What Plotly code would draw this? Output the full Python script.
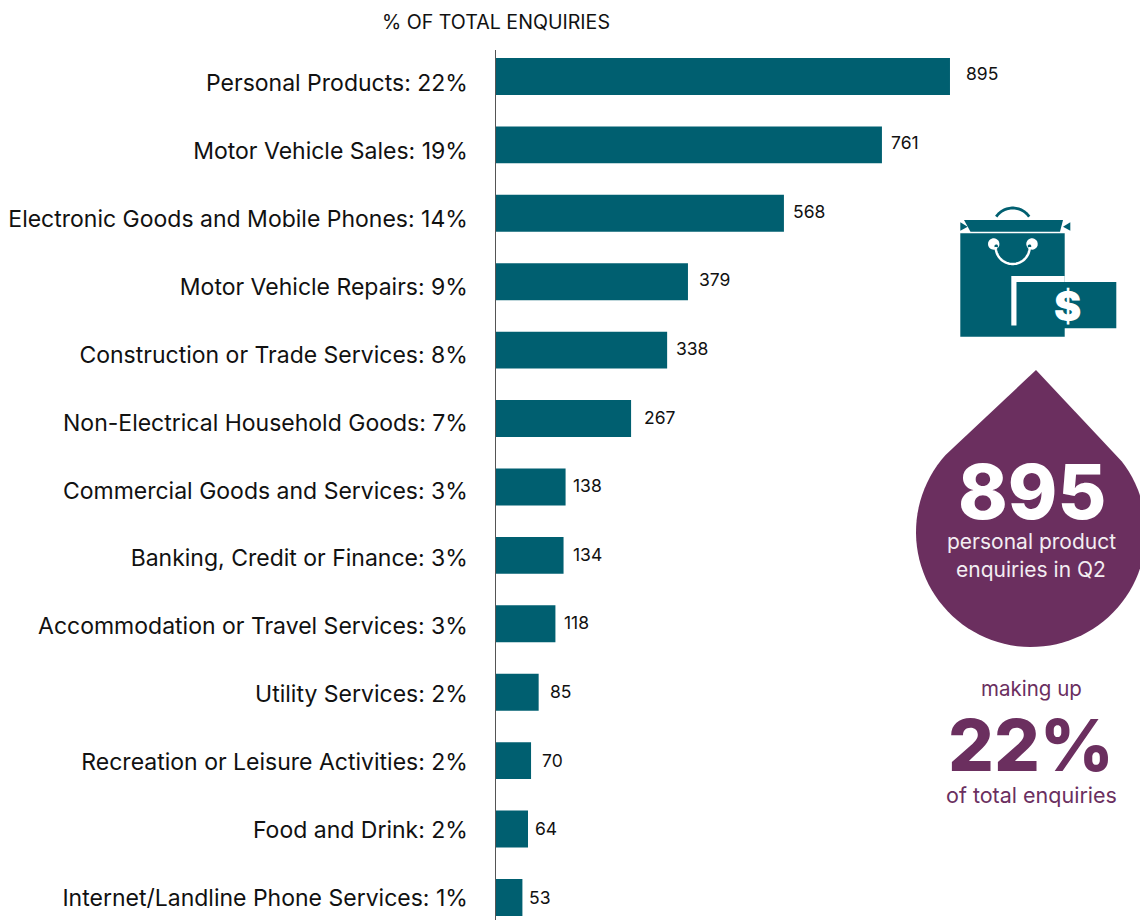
import numpy as np
import plotly.graph_objects as go

categories = ["Personal Products: 22%", "Motor Vehicle Sales: 19%", "Electronic Goods and Mobile Phones: 14%",
              "Motor Vehicle Repairs: 9%", "Construction or Trade Services: 8%", "Non-Electrical Household Goods: 7%",
              "Commercial Goods and Services: 3%", "Banking, Credit or Finance: 3%", "Accommodation or Travel Services: 3%",
              "Utility Services: 2%", "Recreation or Leisure Activities: 2%", "Food and Drink: 2%",
              "Internet/Landline Phone Services: 1%"]
enquiries = [895, 761, 568, 379, 338, 267, 138, 134, 118, 85, 70, 64, 53]
label_gaps = [16, 9, 9, 11, 9, 13, 7, 9, 9, 11, 11, 7, 7]

TEAL = "#005F70"
PURPLE = "#6B2F5F"
FONT = "Inter"
W, H = 1140, 920
X0, Y0 = 495.5, 50


def px(x):
    return x / W


def py(y):
    return 1 - y / H


def path(points, close=True):
    s = "M" + " L".join(f"{px(x):.5f},{py(y):.5f}" for x, y in points)
    return s + (" Z" if close else "")


def arc(cx, cy, r, a0, a1, n=80):
    t = np.radians(np.linspace(a0, a1, n))
    return list(zip(cx + r * np.cos(t), cy + r * np.sin(t)))


fig = go.Figure()
positions = list(range(len(categories)))
fig.add_trace(go.Bar(x=enquiries, y=positions, orientation="h", marker=dict(color=TEAL, line=dict(width=0)),
                     width=0.54, hoverinfo="skip", showlegend=False))
fig.add_trace(go.Scatter(x=[0] * len(categories), y=positions, yaxis="y2", mode="markers",
                         marker=dict(opacity=0), hoverinfo="skip", showlegend=False))

annotations = []
for i, (v, g) in enumerate(zip(enquiries, label_gaps)):
    annotations.append(dict(x=v, y=i, xref="x", yref="y", text=str(v), showarrow=False, xanchor="left",
                            xshift=g - 2, yshift=2.5 - 2.5 * i / 12,
                            font=dict(family=FONT, size=17.5, color="#111111")))


def note(x, y, text, size, color, weight=400, **kw):
    annotations.append(dict(x=px(x), y=py(y), xref="paper", yref="paper", text=text,
                            showarrow=False, xanchor="center", yanchor="middle",
                            font=dict(family=FONT, size=size, color=color, weight=weight), **kw))


note(496, 22, "% OF TOTAL ENQUIRIES", 19.6, "#111111")
note(1032, 491, "895", 75, "white", 800, height=62)
note(1031, 541, "personal product", 21, "#F3EDF2", height=24)
note(1031, 569, "enquiries in Q2", 21, "#F3EDF2", height=24)
note(1031, 688, "making up", 20.5, PURPLE)
note(1031, 744, "22%", 72, PURPLE, 800, height=62)
note(1031, 795, "of total enquiries", 21.5, PURPLE, height=24)
note(1067, 306, "$", 41, "white", 900)

shapes = []


def poly(points, fill, close=True, line=None, width=0):
    shapes.append(dict(type="path", xref="paper", yref="paper", path=path(points, close),
                       fillcolor=fill, line=dict(color=line or "rgba(0,0,0,0)", width=width), layer="above"))


# purple drop
cx, cy, r = 1031, 532, 115
tip = (1036, 370)
poly([tip] + arc(cx, cy, r, -38, 222), PURPLE)

# shopping bag icon
poly([(960.3, 233.3), (1064.7, 233.3), (1064.7, 336.7), (960.3, 336.7)], TEAL)
poly([(964, 220), (1063, 220), (1060, 231.7), (970.5, 231.7)], TEAL)
poly([(960.3, 222.3), (967.7, 226.7), (960.3, 230.7)], TEAL)
poly([(1070.3, 222.3), (1063, 226.7), (1070.3, 230.7)], TEAL)
poly(arc(1012.7, 228, 20, -145.6, -34.4, 30), "rgba(0,0,0,0)", False, TEAL, 2.8)
poly([(1011.3, 276), (1064.7, 276), (1064.7, 282), (1016.7, 282), (1016.7, 325.5), (1011.3, 325.5)], "white")
poly([(1016.7, 282), (1116.3, 282), (1116.3, 328.3), (1016.7, 328.3)], TEAL)
poly(arc(993.7, 244, 5.7, 0, 360, 30), "white")
poly(arc(1032, 244, 5.7, 0, 360, 30), "white")
poly(arc(996.2, 246.2, 1.8, 0, 360, 16), TEAL)
poly(arc(1029.5, 246.2, 1.8, 0, 360, 16), TEAL)
poly(arc(1012.7, 247, 17, 0, 180, 40), "rgba(0,0,0,0)", False, "white", 2.5)

fig.update_layout(
    width=W, height=H, margin=dict(l=0, r=0, t=0, b=0), paper_bgcolor="white", plot_bgcolor="white",
    xaxis=dict(domain=[X0 / W, 1], range=[0, (W - X0) / 0.5078], visible=False, fixedrange=True),
    yaxis=dict(domain=[0, 1 - Y0 / H], range=[12.33, -0.387], showline=True, linecolor="#555555", linewidth=1,
               showticklabels=False, ticks="", showgrid=False, zeroline=False, anchor="x"),
    yaxis2=dict(domain=[0, 1 - Y0 / H], overlaying="y", anchor="x", side="left", range=[12.324, -0.486],
                tickmode="array", tickvals=positions, ticktext=categories, ticks="outside", ticklen=22,
                tickcolor="rgba(0,0,0,0)", showline=False, showgrid=False, zeroline=False,
                tickfont=dict(family=FONT, size=23, color="#111111")),
    annotations=annotations, shapes=shapes, showlegend=False,
)
fig.write_html("out.html", post_script="document.body.style.margin='0';", config=dict(displayModeBar=False))
